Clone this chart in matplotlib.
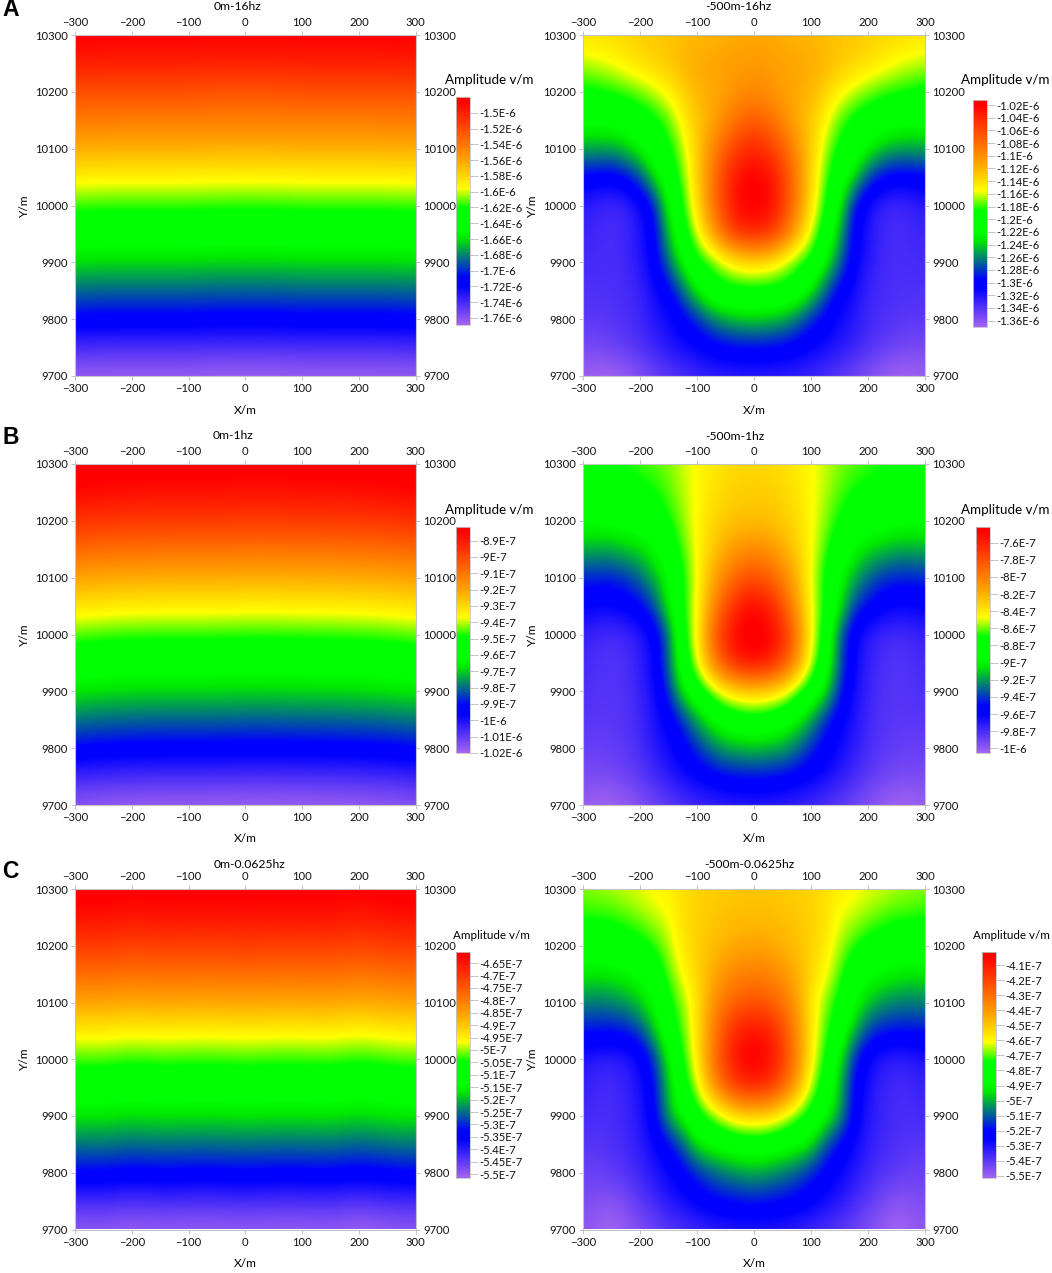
import numpy as np
import matplotlib
matplotlib.use('Agg')
import matplotlib.pyplot as plt
from matplotlib.colors import LinearSegmentedColormap

plt.rcParams['font.family'] = ['Lato', 'DejaVu Sans']
plt.rcParams['font.size'] = 8.1

W, H = 1052, 1273

# grid (right panels are typed for x >= 0 and mirrored)
y_grid = [10300, 10250, 10200, 10150, 10100, 10050, 10000, 9950, 9900, 9850, 9800, 9750, 9700]
x_half = [0, 25, 50, 75, 100, 125, 150, 175, 200, 225, 250, 275, 300]

# left panels, amplitude along y
left_16hz = [-1.485, -1.500, -1.522, -1.543, -1.565, -1.591, -1.616, -1.638, -1.662, -1.687, -1.712, -1.742, -1.767]  # E-6
left_1hz = [-8.82, -8.88, -8.97, -9.09, -9.22, -9.34, -9.47, -9.58, -9.69, -9.81, -9.93, -10.07, -10.19]  # E-7
left_0625hz = [-4.61, -4.65, -4.71, -4.78, -4.86, -4.95, -5.03, -5.10, -5.17, -5.25, -5.33, -5.43, -5.505]  # E-7
# small change along x for the left panels, x = -300 .. 300 by 50
bend_16hz = [0.001, 0.0, 0.0, 0.0, 0.0, -0.001, -0.001, -0.001, 0.0, 0.0, 0.0, 0.0, 0.001]
bend_1hz = [0.02, 0.008, 0.003, 0.0, 0.0, 0.0, -0.004, -0.004, 0.0, 0.0, 0.005, 0.01, 0.025]
bend_0625hz = [0.004, 0.008, -0.004, 0.004, 0.0, 0.0, 0.004, 0.0, 0.0, 0.004, -0.008, 0.004, 0.008]

right_16hz = [  # E-6
    [-1.115, -1.115, -1.118, -1.120, -1.122, -1.125, -1.128, -1.130, -1.132, -1.135, -1.138, -1.140, -1.142],
    [-1.105, -1.107, -1.110, -1.112, -1.115, -1.120, -1.128, -1.134, -1.140, -1.148, -1.155, -1.160, -1.163],
    [-1.098, -1.100, -1.110, -1.115, -1.120, -1.135, -1.150, -1.162, -1.172, -1.178, -1.183, -1.187, -1.190],
    [-1.070, -1.080, -1.095, -1.115, -1.130, -1.150, -1.176, -1.190, -1.200, -1.210, -1.212, -1.214, -1.215],
    [-1.040, -1.050, -1.070, -1.100, -1.130, -1.165, -1.190, -1.205, -1.225, -1.240, -1.250, -1.250, -1.250],
    [-1.018, -1.025, -1.050, -1.090, -1.135, -1.175, -1.205, -1.235, -1.275, -1.295, -1.303, -1.302, -1.298],
    [-1.015, -1.020, -1.050, -1.090, -1.140, -1.185, -1.225, -1.290, -1.318, -1.330, -1.334, -1.330, -1.326],
    [-1.040, -1.045, -1.070, -1.115, -1.160, -1.200, -1.245, -1.300, -1.320, -1.332, -1.335, -1.333, -1.331],
    [-1.140, -1.145, -1.160, -1.180, -1.190, -1.225, -1.265, -1.305, -1.322, -1.333, -1.336, -1.335, -1.334],
    [-1.190, -1.190, -1.192, -1.200, -1.230, -1.268, -1.300, -1.315, -1.330, -1.335, -1.337, -1.338, -1.338],
    [-1.240, -1.243, -1.250, -1.265, -1.285, -1.300, -1.315, -1.322, -1.332, -1.337, -1.340, -1.342, -1.342],
    [-1.295, -1.296, -1.298, -1.302, -1.310, -1.316, -1.322, -1.330, -1.338, -1.344, -1.349, -1.352, -1.353],
    [-1.326, -1.327, -1.328, -1.330, -1.333, -1.338, -1.344, -1.351, -1.358, -1.365, -1.370, -1.370, -1.367],
]
right_1hz = [  # E-7
    [-8.35, -8.35, -8.37, -8.41, -8.46, -8.52, -8.58, -8.62, -8.64, -8.67, -8.70, -8.71, -8.72],
    [-8.30, -8.30, -8.33, -8.38, -8.46, -8.54, -8.63, -8.70, -8.74, -8.77, -8.80, -8.81, -8.82],
    [-8.25, -8.26, -8.29, -8.35, -8.45, -8.58, -8.70, -8.80, -8.85, -8.88, -8.90, -8.91, -8.92],
    [-8.05, -8.08, -8.18, -8.30, -8.46, -8.64, -8.82, -8.97, -9.08, -9.11, -9.17, -9.17, -9.16],
    [-7.80, -7.86, -8.00, -8.20, -8.47, -8.72, -8.98, -9.15, -9.30, -9.40, -9.44, -9.44, -9.43],
    [-7.50, -7.58, -7.80, -8.10, -8.47, -8.70, -9.00, -9.36, -9.50, -9.58, -9.62, -9.62, -9.60],
    [-7.42, -7.46, -7.62, -7.95, -8.45, -8.76, -9.30, -9.60, -9.72, -9.78, -9.80, -9.78, -9.75],
    [-7.50, -7.56, -7.75, -8.05, -8.50, -8.85, -9.30, -9.62, -9.74, -9.81, -9.83, -9.82, -9.79],
    [-8.30, -8.33, -8.42, -8.62, -8.82, -9.02, -9.42, -9.65, -9.76, -9.82, -9.84, -9.83, -9.81],
    [-8.78, -8.81, -8.88, -9.00, -9.18, -9.42, -9.58, -9.68, -9.78, -9.83, -9.85, -9.85, -9.84],
    [-9.13, -9.15, -9.18, -9.28, -9.42, -9.55, -9.64, -9.72, -9.80, -9.85, -9.87, -9.88, -9.88],
    [-9.47, -9.48, -9.50, -9.54, -9.60, -9.65, -9.72, -9.79, -9.85, -9.90, -9.93, -9.94, -9.94],
    [-9.73, -9.74, -9.75, -9.77, -9.79, -9.83, -9.87, -9.92, -9.97, -10.02, -10.05, -10.05, -10.02],
]
right_0625hz = [  # E-7
    [-4.50, -4.50, -4.51, -4.52, -4.53, -4.55, -4.58, -4.60, -4.62, -4.63, -4.65, -4.66, -4.67],
    [-4.48, -4.48, -4.49, -4.50, -4.52, -4.55, -4.62, -4.64, -4.67, -4.70, -4.72, -4.72, -4.73],
    [-4.43, -4.44, -4.46, -4.49, -4.52, -4.57, -4.65, -4.72, -4.77, -4.79, -4.81, -4.82, -4.82],
    [-4.34, -4.35, -4.39, -4.45, -4.53, -4.60, -4.70, -4.82, -4.87, -4.90, -4.92, -4.93, -4.93],
    [-4.24, -4.26, -4.31, -4.41, -4.56, -4.67, -4.76, -4.88, -4.97, -5.02, -5.05, -5.06, -5.05],
    [-4.08, -4.11, -4.21, -4.37, -4.56, -4.70, -4.81, -4.98, -5.12, -5.17, -5.18, -5.18, -5.175],
    [-4.02, -4.05, -4.17, -4.34, -4.58, -4.74, -4.92, -5.15, -5.27, -5.32, -5.34, -5.33, -5.31],
    [-4.12, -4.15, -4.25, -4.42, -4.64, -4.80, -4.98, -5.20, -5.30, -5.345, -5.365, -5.36, -5.34],
    [-4.52, -4.53, -4.60, -4.69, -4.78, -4.88, -5.00, -5.22, -5.31, -5.35, -5.37, -5.37, -5.36],
    [-4.81, -4.82, -4.85, -4.88, -4.93, -5.10, -5.20, -5.27, -5.33, -5.36, -5.38, -5.39, -5.39],
    [-5.01, -5.03, -5.06, -5.10, -5.16, -5.22, -5.27, -5.31, -5.35, -5.385, -5.40, -5.42, -5.42],
    [-5.17, -5.18, -5.19, -5.21, -5.24, -5.28, -5.31, -5.36, -5.40, -5.44, -5.47, -5.46, -5.45],
    [-5.32, -5.32, -5.33, -5.34, -5.36, -5.38, -5.40, -5.43, -5.46, -5.49, -5.515, -5.50, -5.48],
]

# colour bar limits and ticks, same units as the grids
vlims = [(-1.769, -1.48), (-1.370, -1.012), (-10.2, -8.817), (-10.055, -7.418), (-5.516, -4.603), (-5.515, -4.009)]
tick_16_l = ['-1.5E-6', '-1.52E-6', '-1.54E-6', '-1.56E-6', '-1.58E-6', '-1.6E-6', '-1.62E-6', '-1.64E-6',
             '-1.66E-6', '-1.68E-6', '-1.7E-6', '-1.72E-6', '-1.74E-6', '-1.76E-6']
tick_16_r = ['-1.02E-6', '-1.04E-6', '-1.06E-6', '-1.08E-6', '-1.1E-6', '-1.12E-6', '-1.14E-6', '-1.16E-6', '-1.18E-6',
             '-1.2E-6', '-1.22E-6', '-1.24E-6', '-1.26E-6', '-1.28E-6', '-1.3E-6', '-1.32E-6', '-1.34E-6', '-1.36E-6']
tick_1_l = ['-8.9E-7', '-9E-7', '-9.1E-7', '-9.2E-7', '-9.3E-7', '-9.4E-7', '-9.5E-7', '-9.6E-7', '-9.7E-7',
            '-9.8E-7', '-9.9E-7', '-1E-6', '-1.01E-6', '-1.02E-6']
tick_1_r = ['-7.6E-7', '-7.8E-7', '-8E-7', '-8.2E-7', '-8.4E-7', '-8.6E-7', '-8.8E-7', '-9E-7', '-9.2E-7',
            '-9.4E-7', '-9.6E-7', '-9.8E-7', '-1E-6']
tick_06_l = ['-4.65E-7', '-4.7E-7', '-4.75E-7', '-4.8E-7', '-4.85E-7', '-4.9E-7', '-4.95E-7', '-5E-7', '-5.05E-7',
             '-5.1E-7', '-5.15E-7', '-5.2E-7', '-5.25E-7', '-5.3E-7', '-5.35E-7', '-5.4E-7', '-5.45E-7', '-5.5E-7']
tick_06_r = ['-4.1E-7', '-4.2E-7', '-4.3E-7', '-4.4E-7', '-4.5E-7', '-4.6E-7', '-4.7E-7', '-4.8E-7', '-4.9E-7',
             '-5E-7', '-5.1E-7', '-5.2E-7', '-5.3E-7', '-5.4E-7', '-5.5E-7']

titles = ['0m-16hz', '-500m-16hz', '0m-1hz', '-500m-1hz', '0m-0.0625hz', '-500m-0.0625hz']

cmap = LinearSegmentedColormap.from_list('amp', [
    (0.0, '#a464f0'), (0.17, '#0000ff'), (0.21, '#0000ff'), (0.38, '#00e800'), (0.42, '#00ff00'), (0.515, '#00ff00'),
    (0.60, '#ffff00'), (0.72, '#ffa500'), (0.98, '#ff0000'), (1.0, '#ff0000')], N=512)

grey = '#c4c4c4'


def to_fig(x0, y0, x1, y1):
    # pixel box of the reference -> figure fraction rectangle
    return [x0 / W, 1 - y1 / H, (x1 - x0) / W, (y1 - y0) / H]


def put(x, y, s, **kw):
    return fig.text(x / W, 1 - y / H, s, ha=kw.pop('ha', 'center'), va=kw.pop('va', 'center'), **kw)


def mirror(rows):
    rows = np.array(rows)
    return np.hstack([rows[:, :0:-1], rows])


def flat(profile, bend):
    return np.array(profile)[:, None] + np.array(bend)[None, :]


def panel(data, box, vlim, title, title_xy, ylab_x, cbar_box, tick_vals, tick_labs, amp_xy, amp_size):
    x0, y0, x1, y1 = box
    ax = fig.add_axes(to_fig(x0, y0, x1, y1))
    data = np.array(data)
    dx = 600 / (data.shape[1] - 1) / 2
    dy = 600 / (data.shape[0] - 1) / 2
    im = ax.imshow(data, cmap=cmap, vmin=vlim[0], vmax=vlim[1], aspect='auto', interpolation='bicubic',
                   interpolation_stage='data', extent=(-300 - dx, 300 + dx, 9700 - dy, 10300 + dy))
    ax.set_xlim(-300, 300)
    ax.set_ylim(9700, 10300)
    ax.set_xticks(np.arange(-300, 301, 100))
    ax.set_yticks(np.arange(9700, 10301, 100))
    ax.tick_params(top=True, right=True, labeltop=True, labelright=True, length=3, width=0.7,
                   color=grey, labelcolor='#111111', pad=2.2)
    for s in ax.spines.values():
        s.set_color(grey)
        s.set_linewidth(0.8)

    put(title_xy[0], title_xy[1], title, fontsize=8.7)
    put((x0 + x1) / 2, y1 + 34, 'X/m', fontsize=8.6)
    put(ylab_x, (y0 + y1) / 2, 'Y/m', rotation=90, fontsize=8.6)
    put(amp_xy[0], amp_xy[1], 'Amplitude v/m', fontsize=amp_size)

    cax = fig.add_axes(to_fig(*cbar_box))
    cb = fig.colorbar(im, cax=cax)
    cb.set_ticks(tick_vals, labels=tick_labs)
    cb.ax.tick_params(length=5.5, width=0.7, color=grey, labelcolor='#111111', pad=1.5, which='major')
    cb.ax.minorticks_off()
    cb.outline.set_edgecolor(grey)
    cb.outline.set_linewidth(0.6)


fig = plt.figure(figsize=(W / 100, H / 100), dpi=100)

rows_y = [(35, 376), (464, 805), (889, 1229.5)]
left_x = (75, 415.7)
right_x = (583.3, 925.3)

# A
panel(flat(left_16hz, bend_16hz), (left_x[0], rows_y[0][0], left_x[1], rows_y[0][1]), vlims[0],
      titles[0], (238, 7), 24, (456, 97, 470, 325), np.arange(-1.5, -1.761, -0.02), tick_16_l, (489, 80), 9.6)
panel(mirror(right_16hz), (right_x[0], rows_y[0][0], right_x[1], rows_y[0][1]), vlims[1],
      titles[1], (738, 7), 532, (973, 100, 987, 327), np.arange(-1.02, -1.361, -0.02), tick_16_r, (1005.5, 80), 9.6)
# B
panel(flat(left_1hz, bend_1hz), (left_x[0], rows_y[1][0], left_x[1], rows_y[1][1]), vlims[2],
      titles[2], (233, 435), 24, (456, 527, 470, 753), np.arange(-8.9, -10.21, -0.1), tick_1_l, (489, 510), 9.6)
panel(mirror(right_1hz), (right_x[0], rows_y[1][0], right_x[1], rows_y[1][1]), vlims[3],
      titles[3], (735, 436), 532, (976, 527, 990, 753), np.arange(-7.6, -10.01, -0.2), tick_1_r, (1005.5, 510), 9.6)
# C
panel(flat(left_0625hz, bend_0625hz), (left_x[0], rows_y[2][0], left_x[1], rows_y[2][1]), vlims[4],
      titles[4], (250, 865), 24, (456, 951.5, 470, 1178), np.arange(-4.65, -5.501, -0.05), tick_06_l, (491.5, 935.5), 8.4)
panel(mirror(right_0625hz), (right_x[0], rows_y[2][0], right_x[1], rows_y[2][1]), vlims[5],
      titles[5], (749, 865), 532, (982, 951.5, 996, 1178), np.arange(-4.1, -5.501, -0.1), tick_06_r, (1011, 935.5), 8.4)

for letter, yy in zip('ABC', [10, 438, 871]):
    put(2, yy, letter, ha='left', family='Liberation Sans', fontweight='bold', fontsize=16.5)

fig.savefig('out.png', dpi=100)
